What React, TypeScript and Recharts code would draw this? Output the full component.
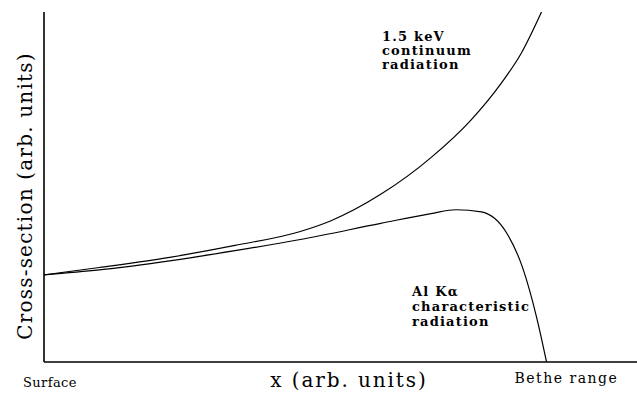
import React from 'react';
import { LineChart, Line, XAxis, YAxis } from 'recharts';

// depth into the sample, 0 = surface, 100 = Bethe range
const continuumX = [0, 11, 25, 38, 51, 57, 67, 77, 85, 91, 95, 99];
const continuumY = [24.9, 27.0, 29.9, 33.3, 37.3, 40.3, 47.9, 58.4, 69.2, 79.7, 88.3, 100];

const alKaX = [0, 11, 25, 38, 51, 67, 77, 82, 87, 92, 95.2, 98, 100];
const alKaY = [24.9, 26.3, 28.9, 31.8, 35.0, 39.6, 42.4, 43.5, 42.9, 37.0, 27.1, 12.9, 0];

const edgeTicks = [0, 100];
const edgeLabels = ['Surface', 'Bethe range'];

type PointT = { x: number; y: number };
const toPoints = (xs: number[], ys: number[]): PointT[] =>
  xs.map((x, i) => ({ x, y: ys[i] }));

const continuumData = toPoints(continuumX, continuumY);
const alKaData = toPoints(alKaX, alKaY);

const serif = '"DejaVu Serif", serif';

const EdgeTick = (props: any) => {
  const { x, y, payload } = props;
  const idx = edgeTicks.indexOf(payload.value);
  if (idx === 0) {
    return (
      <text x={x - 21} y={y + 17} fontFamily={serif} fontSize={13} letterSpacing={0.4} fill="#000">
        {edgeLabels[0]}
      </text>
    );
  }
  return (
    <text x={x - 32} y={y + 13} fontFamily={serif} fontSize={14} letterSpacing={1.5} fill="#000">
      {edgeLabels[1]}
    </text>
  );
};

const YLabel = (props: any) => {
  const vb = props.viewBox;
  const cx = vb.x + 25;
  const cy = vb.y + vb.height / 2 + 9;
  return (
    <text
      x={cx}
      y={cy}
      transform={`rotate(-90 ${cx} ${cy})`}
      textAnchor="middle"
      dominantBaseline="central"
      fontFamily={serif}
      fontSize={20}
      letterSpacing={1.2}
      fill="#000"
    >
      Cross-section (arb. units)
    </text>
  );
};

const XLabel = (props: any) => {
  const vb = props.viewBox;
  return (
    <text x={349} y={vb.y + 25} textAnchor="middle" fontFamily={serif} fontSize={20} letterSpacing={1.9} fill="#000">
      x (arb. units)
    </text>
  );
};

const noteStyle = { fontFamily: serif, fontSize: 13, fontWeight: 'bold' as const, letterSpacing: 1.2 };

export default function App() {
  return (
    <div style={{ position: 'absolute', left: 0, top: 0, background: '#fff' }}>
      <LineChart width={637} height={398} margin={{ top: 12, right: 0, bottom: 0, left: 0 }}>
        <XAxis
          type="number"
          dataKey="x"
          domain={[0, 118]}
          ticks={edgeTicks}
          tick={<EdgeTick />}
          tickLine={false}
          axisLine={{ stroke: '#000', strokeWidth: 1.6 }}
          height={36}
          label={<XLabel />}
        />
        <YAxis
          type="number"
          dataKey="y"
          domain={[0, 100]}
          tick={false}
          tickLine={false}
          axisLine={{ stroke: '#000', strokeWidth: 1.6 }}
          width={44}
          label={<YLabel />}
        />
        <Line
          data={continuumData}
          dataKey="y"
          type="monotone"
          stroke="#000"
          strokeWidth={1.2}
          dot={false}
          isAnimationActive={false}
        />
        <Line
          data={alKaData}
          dataKey="y"
          type="monotone"
          stroke="#000"
          strokeWidth={1.2}
          dot={false}
          isAnimationActive={false}
        />
        <text {...noteStyle} fill="#000">
          <tspan x={382} y={41}>1.5 keV</tspan>
          <tspan x={382} y={55}>continuum</tspan>
          <tspan x={382} y={69}>radiation</tspan>
        </text>
        <text {...noteStyle} fill="#000">
          <tspan x={412} y={296}>Al Kα</tspan>
          <tspan x={412} y={311}>characteristic</tspan>
          <tspan x={412} y={326}>radiation</tspan>
        </text>
      </LineChart>
    </div>
  );
}
